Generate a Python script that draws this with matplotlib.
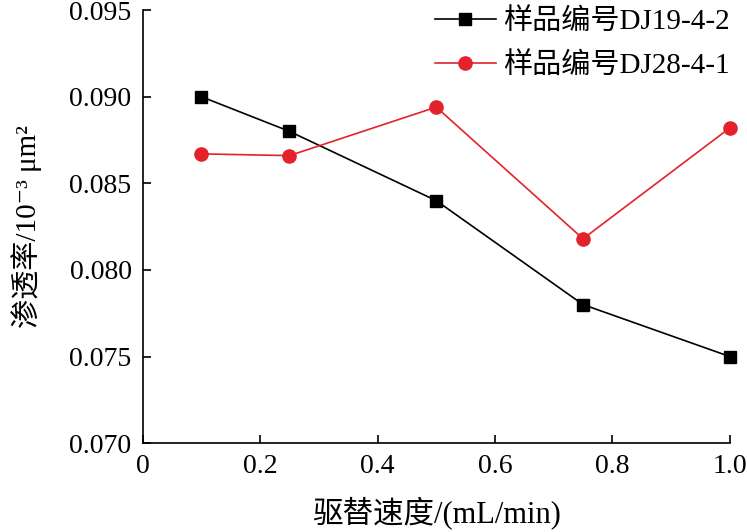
import matplotlib.pyplot as plt

# displacement rate, mL/min
rate = [0.1, 0.25, 0.5, 0.75, 1.0]
# permeability, 10^-3 um^2
perm_dj19 = [0.0900, 0.0880, 0.0840, 0.0780, 0.0750]
perm_dj28 = [0.0867, 0.0866, 0.0894, 0.0818, 0.0882]
labels = ['样品编号DJ19-4-2', '样品编号DJ28-4-1']
xticks = [0, 0.2, 0.4, 0.6, 0.8, 1.0]
xticklabels = ['0', '0.2', '0.4', '0.6', '0.8', '1.0']
yticks = [0.070, 0.075, 0.080, 0.085, 0.090, 0.095]

plt.rcParams['font.family'] = ['Liberation Serif', 'Noto Sans CJK SC', 'DejaVu Sans']

fig = plt.figure(figsize=(7.47, 5.32), dpi=100)
ax = fig.add_axes([0.191, 0.167, 0.786, 0.814])

ax.plot(rate, perm_dj19, color='black', lw=1.2, marker='s', ms=9, label=labels[0], clip_on=False)
ax.plot(rate, perm_dj28, color='#e3222b', lw=1.2, marker='o', ms=9.5, label=labels[1], clip_on=False)

ax.set_xlim(0, 1.0)
ax.set_ylim(0.070, 0.095)
ax.set_xticks(xticks)
ax.set_xticklabels(xticklabels)
ax.set_yticks(yticks)
ax.set_yticklabels(['%.3f' % v for v in yticks])
ax.tick_params(direction='in', length=6, width=1.2, labelsize=20, pad=8)
for s in ['top', 'right']:
    ax.spines[s].set_visible(False)
for s in ['left', 'bottom']:
    ax.spines[s].set_linewidth(1.2)

ax.set_xlabel('驱替速度/(mL/min)', fontsize=22, labelpad=12)
ax.set_ylabel('渗透率/10⁻³ μm²', fontsize=21, labelpad=20)

ax.legend(loc='upper right', bbox_to_anchor=(1.0, 1.005), frameon=False, fontsize=21,
          handlelength=2.1, handletextpad=0.25, labelspacing=0.6,
          borderpad=0, borderaxespad=0)

plt.savefig('out.png', dpi=100)
